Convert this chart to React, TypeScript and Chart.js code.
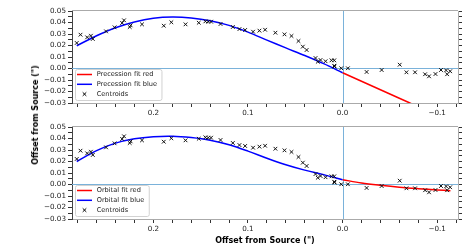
import React, { useEffect, useRef } from 'react';
import { Chart, registerables } from 'chart.js';

Chart.register(...registerables);

// ---------- data ----------
const centroidX = [
  0.281, 0.277, 0.270, 0.266, 0.264, 0.250, 0.241, 0.233, 0.231, 0.225, 0.224, 0.212,
  0.189, 0.181, 0.166, 0.152, 0.145, 0.142, 0.139, 0.129, 0.116, 0.109, 0.103, 0.0946,
  0.0879, 0.0819, 0.0710, 0.0614, 0.054, 0.0466, 0.042, 0.038, 0.0286, 0.0262, 0.0233,
  0.018, 0.0117, 0.0088, 0.0088, 0.0085, 0.0014, -0.0056, -0.0254, -0.0413, -0.0604,
  -0.0675, -0.0766, -0.0872, -0.0914, -0.0982, -0.104, -0.1094, -0.1105, -0.1137,
];
const centroidY = [
  0.0222, 0.0294, 0.0271, 0.0285, 0.0257, 0.0323, 0.0358, 0.0396, 0.0419, 0.0361, 0.0375, 0.0384,
  0.0372, 0.0402, 0.0384, 0.0398, 0.0410, 0.0407, 0.0407, 0.0387, 0.0361, 0.0343, 0.0335, 0.0320,
  0.0329, 0.0337, 0.0311, 0.0297, 0.0283, 0.0239, 0.0190, 0.0161, 0.0091, 0.0059, 0.0074,
  0.0063, 0.0071, 0.0071, 0.0024, 0.0017, 0.0002, 0.0002, -0.0030, -0.0013, 0.0033,
  -0.0033, -0.0033, -0.0050, -0.0068, -0.0048, -0.0013, -0.0016, -0.0050, -0.0024,
];

const precessionBlueX = [0.281, 0.26, 0.24, 0.22, 0.20, 0.18, 0.16, 0.14, 0.12, 0.10, 0.08, 0.06, 0.04, 0.02, 0.0];
const precessionBlueY = [0.0198, 0.0285, 0.0355, 0.0405, 0.0437, 0.0448, 0.0440, 0.0416, 0.0375, 0.0316, 0.0247, 0.0179, 0.0113, 0.0042, -0.0037];
const precessionRedX = [0.0, -0.02, -0.04, -0.06, -0.08];
const precessionRedY = [-0.0037, -0.0111, -0.0185, -0.0259, -0.0333];

const orbitalBlueX = [0.281, 0.26, 0.24, 0.22, 0.20, 0.18, 0.16, 0.14, 0.12, 0.10, 0.08, 0.06, 0.04, 0.02, 0.0];
const orbitalBlueY = [0.0200, 0.0295, 0.0360, 0.0398, 0.0416, 0.0420, 0.0408, 0.0385, 0.0345, 0.0290, 0.0228, 0.0172, 0.0125, 0.0086, 0.0041];
const orbitalRedX = [0.0, -0.02, -0.04, -0.06, -0.08, -0.10, -0.114];
const orbitalRedY = [0.0041, 0.0014, -0.0006, -0.0023, -0.0036, -0.0047, -0.0054];

const xTickValues = [0.28, 0.26, 0.24, 0.22, 0.2, 0.18, 0.16, 0.14, 0.12, 0.1, 0.08, 0.06, 0.04, 0.02, 0.0,
  -0.02, -0.04, -0.06, -0.08, -0.1, -0.12];
const yTickValues = [-0.03, -0.025, -0.02, -0.015, -0.01, -0.005, 0.0, 0.005, 0.01, 0.015, 0.02,
  0.025, 0.03, 0.035, 0.04, 0.045, 0.05];

const X_MIN = -0.122;
const X_MAX = 0.286;
const Y_MIN = -0.03;
const Y_MAX = 0.05;

const AXIS_TITLE = 'Offset from Source (")';
const FAMILY = '"DejaVu Sans", "Liberation Sans", sans-serif';

// ---------- helpers ----------
const pts = (xs: number[], ys: number[]) => xs.map((x, i) => ({ x, y: ys[i] }));
const fmt = (v: number, d: number) => {
  const s = Math.abs(v).toFixed(d);
  return v < -1e-9 ? '\u2212' + s : s;
};

const decorPlugin = {
  id: 'decor',
  beforeDatasetsDraw(chart: any) {
    const { ctx, chartArea: a, scales } = chart;
    const x0 = Math.round(scales.x.getPixelForValue(0)) + 0.5;
    const y0 = Math.floor(scales.y.getPixelForValue(0)) + 0.5;
    ctx.save();
    ctx.strokeStyle = '#7ab2da';
    ctx.lineWidth = 1;
    ctx.beginPath();
    ctx.moveTo(a.left, y0);
    ctx.lineTo(a.right, y0);
    ctx.moveTo(x0, a.top);
    ctx.lineTo(x0, a.bottom);
    ctx.stroke();
    ctx.strokeStyle = '#aaaaaa';
    ctx.beginPath();
    ctx.moveTo(a.left, a.top - 0.5);
    ctx.lineTo(a.right, a.top - 0.5);
    ctx.stroke();
    ctx.restore();
  },
  afterDraw(chart: any) {
    const { ctx, chartArea: a } = chart;
    const ds = chart.data.datasets;
    ctx.save();
    ctx.font = `6.6px ${FAMILY}`;
    const textW = Math.max(...ds.map((d: any) => ctx.measureText(d.label).width));
    const bx = a.left + 3.5;
    const by = a.top + 58.5;
    const bw = 21.7 + textW + 4.5;
    const bh = 31;
    const r = 2;
    ctx.beginPath();
    ctx.moveTo(bx + r, by);
    ctx.lineTo(bx + bw - r, by);
    ctx.arcTo(bx + bw, by, bx + bw, by + r, r);
    ctx.lineTo(bx + bw, by + bh - r);
    ctx.arcTo(bx + bw, by + bh, bx + bw - r, by + bh, r);
    ctx.lineTo(bx + r, by + bh);
    ctx.arcTo(bx, by + bh, bx, by + bh - r, r);
    ctx.lineTo(bx, by + r);
    ctx.arcTo(bx, by, bx + r, by, r);
    ctx.closePath();
    ctx.fillStyle = 'rgba(255,255,255,0.8)';
    ctx.fill();
    ctx.strokeStyle = '#d2d2d2';
    ctx.lineWidth = 1;
    ctx.stroke();
    ds.forEach((d: any, i: number) => {
      const cy = by + 5 + i * 9.8;
      if (d.showLine) {
        ctx.strokeStyle = d.borderColor;
        ctx.lineWidth = 1.5;
        ctx.beginPath();
        ctx.moveTo(bx + 1.5, cy);
        ctx.lineTo(bx + 16.5, cy);
        ctx.stroke();
      } else {
        const cx = bx + 9;
        const h = 1.8;
        ctx.strokeStyle = '#000';
        ctx.lineWidth = 1;
        ctx.beginPath();
        ctx.moveTo(cx - h, cy - h);
        ctx.lineTo(cx + h, cy + h);
        ctx.moveTo(cx + h, cy - h);
        ctx.lineTo(cx - h, cy + h);
        ctx.stroke();
      }
      ctx.fillStyle = '#222';
      ctx.textBaseline = 'middle';
      ctx.textAlign = 'left';
      ctx.fillText(d.label, bx + 21.2, cy);
    });
    ctx.restore();
  },
};

function buildConfig(opts: {
  redLabel: string; blueLabel: string;
  redX: number[]; redY: number[]; blueX: number[]; blueY: number[];
  showXTitle: boolean; xAxisHeight: number;
}): any {
  const tickFont = { family: FAMILY, size: 7.2 };
  const yCommon = {
    type: 'linear',
    min: Y_MIN,
    max: Y_MAX,
    afterBuildTicks: (s: any) => { s.ticks = yTickValues.map((v) => ({ value: v })); },
    grid: { drawOnChartArea: false, drawTicks: true, tickLength: 4, tickColor: '#333', tickWidth: 1 },
  };
  return {
    type: 'scatter',
    data: {
      datasets: [
        {
          label: opts.redLabel,
          data: pts(opts.redX, opts.redY),
          showLine: true,
          borderColor: '#ff0000',
          backgroundColor: '#ff0000',
          borderWidth: 1.5,
          pointRadius: 0,
          tension: 0.35,
          order: 2,
          yAxisID: 'y',
        },
        {
          label: opts.blueLabel,
          data: pts(opts.blueX, opts.blueY),
          showLine: true,
          borderColor: '#0000ff',
          backgroundColor: '#0000ff',
          borderWidth: 1.5,
          pointRadius: 0,
          tension: 0.35,
          order: 1,
          yAxisID: 'y',
        },
        {
          label: 'Centroids',
          data: pts(centroidX, centroidY),
          showLine: false,
          pointStyle: 'crossRot',
          pointRadius: 2.6,
          pointBorderWidth: 1,
          borderColor: '#111',
          backgroundColor: '#111',
          order: 0,
          yAxisID: 'y',
        },
      ],
    },
    options: {
      responsive: false,
      animation: false,
      events: [],
      layout: { padding: { top: 11, left: 0, right: 0, bottom: 0 } },
      plugins: { legend: { display: false }, tooltip: { enabled: false }, title: { display: false } },
      scales: {
        x: {
          type: 'linear',
          reverse: true,
          min: X_MIN,
          max: X_MAX,
          afterBuildTicks: (s: any) => { s.ticks = xTickValues.map((v) => ({ value: v })); },
          afterFit: (s: any) => { s.height = opts.xAxisHeight; },
          ticks: {
            autoSkip: false,
            maxRotation: 0,
            minRotation: 0,
            padding: 1.5,
            color: '#222',
            font: tickFont,
            callback: (v: any) => {
              const n = Number(v);
              return Math.abs(n * 10 - Math.round(n * 10)) < 1e-6 ? fmt(n, 1) : '';
            },
          },
          grid: { drawOnChartArea: false, drawTicks: true, tickLength: 4, tickColor: '#333', tickWidth: 1 },
          border: { color: '#aaaaaa', width: 1 },
          title: {
            display: opts.showXTitle,
            text: AXIS_TITLE,
            color: '#000',
            font: { family: FAMILY, size: 8, weight: 'bold' },
            padding: { top: 0, bottom: 6 },
          },
        },
        y: {
          ...yCommon,
          position: 'left',
          afterFit: (s: any) => { s.width = 72; },
          ticks: {
            autoSkip: false,
            padding: 2,
            color: '#222',
            font: tickFont,
            callback: (v: any) => {
              const n = Number(v);
              return Math.abs(n * 100 - Math.round(n * 100)) < 1e-6 ? fmt(n, 2) : '';
            },
          },
          border: { color: '#444', width: 1 },
        },
        y2: {
          ...yCommon,
          position: 'right',
          afterFit: (s: any) => { s.width = 13; },
          ticks: { display: false },
          border: { color: '#aaaaaa', width: 1 },
        },
      },
    },
    plugins: [decorPlugin],
  };
}

function Panel(props: {
  top: number; height: number; redLabel: string; blueLabel: string;
  redX: number[]; redY: number[]; blueX: number[]; blueY: number[]; showXTitle: boolean;
}) {
  const ref = useRef<HTMLCanvasElement>(null);
  useEffect(() => {
    if (!ref.current) return;
    const chart = new Chart(ref.current, buildConfig({
      redLabel: props.redLabel,
      blueLabel: props.blueLabel,
      redX: props.redX,
      redY: props.redY,
      blueX: props.blueX,
      blueY: props.blueY,
      showXTitle: props.showXTitle,
      xAxisHeight: props.height - 103,
    }));
    return () => chart.destroy();
  }, []);
  return (
    <canvas
      ref={ref}
      width={471}
      height={props.height}
      style={{ position: 'absolute', left: 0, top: props.top, width: 471, height: props.height }}
    />
  );
}

export default function App() {
  useEffect(() => {
    document.body.style.margin = '0';
    document.body.style.overflow = 'hidden';
  }, []);
  return (
    <div style={{ position: 'absolute', left: 0, top: 0, width: 471, height: 252, background: '#fff', overflow: 'hidden' }}>
      <Panel
        top={0}
        height={126}
        redLabel="Precession fit red"
        blueLabel="Precession fit blue"
        redX={precessionRedX}
        redY={precessionRedY}
        blueX={precessionBlueX}
        blueY={precessionBlueY}
        showXTitle={false}
      />
      <Panel
        top={116}
        height={136}
        redLabel="Orbital fit red"
        blueLabel="Orbital fit blue"
        redX={orbitalRedX}
        redY={orbitalRedY}
        blueX={orbitalBlueX}
        blueY={orbitalBlueY}
        showXTitle={true}
      />
      <div
        style={{
          position: 'absolute',
          left: 36,
          top: 115,
          transform: 'translate(-50%, -50%) rotate(-90deg)',
          font: `bold 8px ${FAMILY}`,
          color: '#000',
          whiteSpace: 'nowrap',
          lineHeight: 1,
        }}
      >
        {AXIS_TITLE}
      </div>
    </div>
  );
}
